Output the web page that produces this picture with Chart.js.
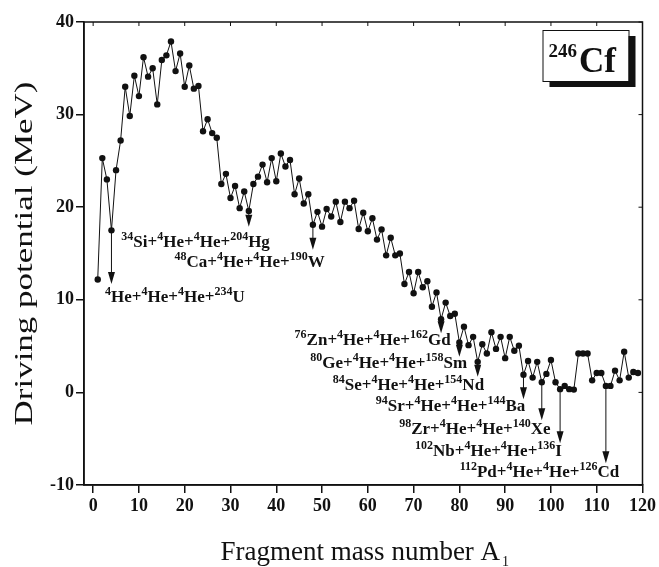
<!DOCTYPE html>
<html>
<head>
<meta charset="utf-8">
<script src="https://cdn.jsdelivr.net/npm/chart.js@4.4.0/dist/chart.umd.min.js"></script>
<style>
  html, body { margin: 0; padding: 0; background: #fff; }
  canvas { display: block; }
</style>
</head>
<body>
<canvas id="chart" width="659" height="567"></canvas>
<script>
// Driving potential du 246Cf en fonction de A1 (ternaire + alpha)
const massNumbers = [
    1, 2, 3, 4, 5, 6, 7, 8, 9, 10, 11, 12, 13, 14, 15, 16, 17, 18, 19, 20,
    21, 22, 23, 24, 25, 26, 27, 28, 29, 30, 31, 32, 33, 34, 35, 36, 37, 38, 39, 40,
    41, 42, 43, 44, 45, 46, 47, 48, 49, 50, 51, 52, 53, 54, 55, 56, 57, 58, 59, 60,
    61, 62, 63, 64, 65, 66, 67, 68, 69, 70, 71, 72, 73, 74, 75, 76, 77, 78, 79, 80,
    81, 82, 83, 84, 85, 86, 87, 88, 89, 90, 91, 92, 93, 94, 95, 96, 97, 98, 99, 100,
    101, 102, 103, 104, 105, 106, 107, 108, 109, 110, 111, 112, 113, 114, 115, 116, 117, 118, 119
];
const drivingPotential = [
    12.2, 25.3, 23.0, 17.5, 24.0, 27.2, 33.0, 29.85, 34.2, 32.0, 36.2, 34.1, 35.0, 31.1, 35.9, 36.4, 37.9, 34.7, 36.6, 33.0,
    35.3, 32.8, 33.1, 28.2, 29.5, 28.0, 27.5, 22.5, 23.6, 21.0, 22.3, 19.9, 21.7, 19.6, 22.5, 23.3, 24.6, 22.7, 25.3, 22.8,
    25.8, 24.4, 25.1, 21.4, 23.1, 20.4, 21.4, 18.1, 19.5, 17.9, 19.8, 19.0, 20.6, 18.4, 20.6, 19.9, 20.7, 17.65, 19.4, 17.4,
    18.8, 16.5, 17.6, 14.8, 16.7, 14.8, 15.0, 11.7, 13.0, 10.7, 13.0, 11.35, 12.0, 9.25, 10.8, 7.9, 9.7, 8.25, 8.5, 5.4,
    7.1, 5.1, 6.0, 3.3, 5.2, 4.2, 6.5, 4.7, 6.0, 3.7, 6.0, 4.5, 5.05, 1.9, 3.4, 1.6, 3.3, 1.1, 2.0, 3.5,
    1.1, 0.35, 0.7, 0.35, 0.3, 4.2, 4.2, 4.2, 1.3, 2.1, 2.1, 0.7, 0.7, 2.35, 1.3, 4.4, 1.6, 2.2, 2.1
];
const xTicks = [0, 10, 20, 30, 40, 50, 60, 70, 80, 90, 100, 110, 120];
const yTicks = [-10, 0, 10, 20, 30, 40];

// Configurations marquées par des flèches
const arrowMass = [4, 34, 48, 76, 80, 84, 94, 98, 102, 112];
const arrowTip = [11.7, 17.9, 15.4, 6.4, 3.85, 1.7, -0.75, -3.0, -5.5, -7.65];
const labelTexts = [
    '^4He+^4He+^4He+^234U',
    '^34Si+^4He+^4He+^204Hg',
    '^48Ca+^4He+^4He+^190W',
    '^76Zn+^4He+^4He+^162Gd',
    '^80Ge+^4He+^4He+^158Sm',
    '^84Se+^4He+^4He+^154Nd',
    '^94Sr+^4He+^4He+^144Ba',
    '^98Zr+^4He+^4He+^140Xe',
    '^102Nb+^4He+^4He+^136I',
    '^112Pd+^4He+^4He+^126Cd'
];
const labelRight = [33.1, 38.6, 50.6, 78.1, 81.7, 85.4, 94.4, 99.9, 102.4, 114.9];
const labelBase = [9.8, 15.7, 13.5, 5.1, 2.6, 0.26, -2.0, -4.5, -6.9, -9.1];

const ink = '#111';
const serif = "'Liberation Serif', 'Times New Roman', serif";

// texte avec exposants : ^123 => exposant
function drawRich(ctx, str, right, base, size, supSize) {
    const parts = [];
    str.replace(/\^(\d+)|([^\^]+)/g, (m, sup, txt) => {
        parts.push(sup ? {t: sup, sup: true} : {t: txt, sup: false});
        return m;
    });
    let total = 0;
    parts.forEach(p => {
        ctx.font = `bold ${p.sup ? supSize : size}px ${serif}`;
        p.w = ctx.measureText(p.t).width;
        total += p.w;
    });
    let x = right - total;
    ctx.textAlign = 'left';
    ctx.textBaseline = 'alphabetic';
    parts.forEach(p => {
        ctx.font = `bold ${p.sup ? supSize : size}px ${serif}`;
        ctx.fillText(p.t, x, p.sup ? base - size * 0.42 : base);
        x += p.w;
    });
}

const overlay = {
    id: 'overlay',
    afterDraw(chart) {
        const {ctx, chartArea: a} = chart;
        const x = chart.scales.x, y = chart.scales.y;
        ctx.save();
        ctx.strokeStyle = ink;
        ctx.fillStyle = ink;

        // cadre + petites graduations haut/droite
        ctx.lineWidth = 1.5;
        ctx.strokeRect(a.left, a.top, a.right - a.left, a.bottom - a.top);
        ctx.lineWidth = 1;
        ctx.beginPath();
        xTicks.forEach(v => {
            const px = x.getPixelForValue(v);
            ctx.moveTo(px, a.top); ctx.lineTo(px, a.top + 4);
        });
        yTicks.forEach(v => {
            const py = y.getPixelForValue(v);
            ctx.moveTo(a.right, py); ctx.lineTo(a.right - 4, py);
        });
        ctx.stroke();

        // flèches
        arrowMass.forEach((m, i) => {
            const px = x.getPixelForValue(m);
            const py0 = y.getPixelForValue(drivingPotential[massNumbers.indexOf(m)]);
            const py1 = y.getPixelForValue(arrowTip[i]);
            ctx.lineWidth = 1;
            ctx.beginPath();
            ctx.moveTo(px, py0);
            ctx.lineTo(px, py1 - 8);
            ctx.stroke();
            ctx.beginPath();
            ctx.moveTo(px, py1);
            ctx.lineTo(px - 3.5, py1 - 12);
            ctx.lineTo(px + 3.5, py1 - 12);
            ctx.closePath();
            ctx.fill();
        });

        // étiquettes
        labelTexts.forEach((t, i) => {
            drawRich(ctx, t, x.getPixelForValue(labelRight[i]), y.getPixelForValue(labelBase[i]), 17, 12);
        });

        // encadré 246Cf
        const bx = a.right - 100, by = a.top + 8, bw = 86, bh = 51;
        ctx.fillRect(bx + 7, by + 6, bw, bh);
        ctx.fillStyle = '#fff';
        ctx.fillRect(bx, by, bw, bh);
        ctx.lineWidth = 1;
        ctx.strokeRect(bx + 0.5, by + 0.5, bw, bh);
        ctx.fillStyle = ink;
        ctx.textAlign = 'left';
        ctx.textBaseline = 'alphabetic';
        ctx.font = `bold 19px ${serif}`;
        ctx.fillText('246', bx + 6, by + 27);
        const sw = ctx.measureText('246').width;
        ctx.font = `bold 35px ${serif}`;
        ctx.fillText('Cf', bx + 8 + sw, by + 42);

        // titre axe x
        ctx.font = `27px ${serif}`;
        const xt = 'Fragment mass number A';
        const xw = ctx.measureText(xt).width;
        const cx = (a.left + a.right) / 2;
        ctx.fillText(xt, cx - xw / 2 - 3, 560);
        ctx.font = `14px ${serif}`;
        ctx.fillText('1', cx + xw / 2 - 1, 566);

        // titre axe y
        ctx.font = `26px ${serif}`;
        const yt = 'Driving potential (MeV)';
        const yw = ctx.measureText(yt).width;
        ctx.translate(32, (a.top + a.bottom) / 2);
        ctx.rotate(-Math.PI / 2);
        ctx.scale(344 / yw, 1);
        ctx.textAlign = 'center';
        ctx.fillText(yt, 0, 0);
        ctx.restore();
    }
};

new Chart(document.getElementById('chart'), {
    type: 'line',
    data: {
        datasets: [{
            data: massNumbers.map((m, i) => ({x: m, y: drivingPotential[i]})),
            borderColor: ink,
            borderWidth: 1,
            backgroundColor: ink,
            pointBackgroundColor: ink,
            pointBorderWidth: 0,
            pointRadius: 3.2,
            tension: 0,
            fill: false
        }]
    },
    options: {
        responsive: false,
        animation: false,
        devicePixelRatio: 1,
        layout: {padding: {top: 22, right: 16, left: 0, bottom: 0}},
        plugins: {legend: {display: false}, tooltip: {enabled: false}},
        scales: {
            x: {
                type: 'linear',
                min: -2, max: 120,
                afterBuildTicks: s => { s.ticks = xTicks.map(v => ({value: v})); },
                afterFit: s => { s.height = 82; },
                border: {color: ink, width: 1.5},
                grid: {drawOnChartArea: false, drawTicks: true, tickLength: 8, color: ink, lineWidth: 1.5},
                ticks: {color: ink, padding: 3, maxRotation: 0, font: {family: serif, size: 18, weight: 'bold'}}
            },
            y: {
                min: -10, max: 40,
                afterBuildTicks: s => { s.ticks = yTicks.map(v => ({value: v})); },
                afterFit: s => { s.width = 84; },
                border: {color: ink, width: 1.5},
                grid: {drawOnChartArea: false, drawTicks: true, tickLength: 8, color: ink, lineWidth: 1.5},
                ticks: {color: ink, padding: 2, font: {family: serif, size: 18, weight: 'bold'}}
            }
        }
    },
    plugins: [overlay]
});
</script>
</body>
</html>
